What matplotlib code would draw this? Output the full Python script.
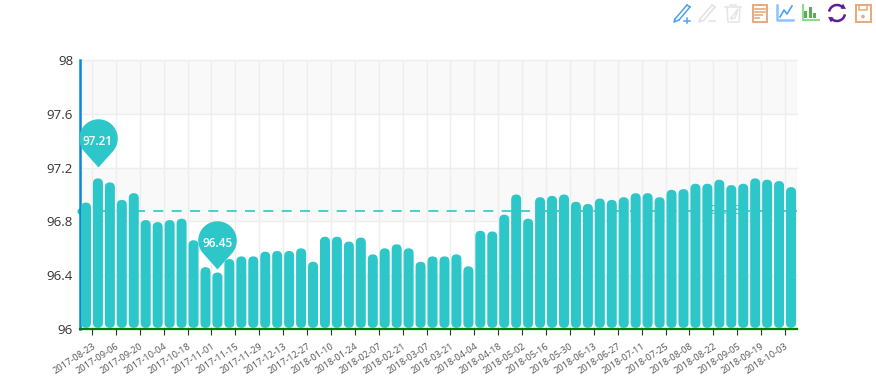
import numpy as np
import pandas as pd
import matplotlib
matplotlib.use("Agg")
import matplotlib.pyplot as plt
from matplotlib.patches import FancyBboxPatch, Rectangle, Circle, Polygon, Arc
from matplotlib.path import Path

plt.rcParams["font.family"] = ["Open Sans", "DejaVu Sans"]

# weekly values
values = [96.94, 97.12, 97.09, 96.96, 97.01, 96.81, 96.795, 96.81, 96.82, 96.66,
          96.46, 96.42, 96.52, 96.54, 96.54, 96.575, 96.58, 96.58, 96.60, 96.50,
          96.686, 96.686, 96.65, 96.68, 96.555, 96.60, 96.63, 96.60, 96.50, 96.54,
          96.54, 96.555, 96.466, 96.73, 96.725, 96.85, 97.00, 96.82, 96.98, 96.99,
          97.00, 96.946, 96.93, 96.97, 96.96, 96.98, 97.01, 97.01, 96.98, 97.035,
          97.04, 97.08, 97.08, 97.11, 97.07, 97.08, 97.12, 97.11, 97.10, 97.055]
dates = pd.date_range("2017-08-23", periods=len(values), freq="7D").strftime("%Y-%m-%d").tolist()
y_ticks = [96, 96.4, 96.8, 97.2, 97.6, 98]
y_labels = ["96", "96.4", "96.8", "97.2", "97.6", "98"]
max_point = (1, 97.21)
min_point = (11, 96.45)
mean_value = 96.88

TEAL = "#2ec7c9"
W, H = 876, 388

fig = plt.figure(figsize=(W / 100, H / 100), dpi=100)
ax = fig.add_axes([80 / W, 1 - 329 / H, 717 / W, 269 / H])
ax.set_xlim(-0.5, len(values) - 0.5)
ax.set_ylim(96, 98)

# alternating background bands and grid
for i in range(len(y_ticks) - 1):
    if i % 2 == 0:
        ax.axhspan(y_ticks[i], y_ticks[i + 1], color="#f9f9f9", lw=0, zorder=0)
tick_pos = np.arange(0.5, len(values), 2)
for y in y_ticks:
    ax.axhline(y, color="#eeeeee", lw=1, zorder=1, clip_on=False)
for x in tick_pos:
    ax.axvline(x, color="#eeeeee", lw=1, zorder=1)
ax.axvline(len(values) - 0.5, color="#eeeeee", lw=1, zorder=1)

# mean line goes under the bars, same colour anyway
ax.plot([-0.5, len(values) - 0.5], [mean_value, mean_value], color=TEAL, lw=1.2,
        dashes=(6, 5), zorder=2)
ax.plot([-0.5], [mean_value], "o", color=TEAL, ms=4.5, mew=0, clip_on=False, zorder=2)
ax.text(len(values) - 6.5, mean_value, f"{mean_value:.2f}", color=TEAL, fontsize=9,
        ha="center", va="center", zorder=2)

# rounded bars
bar_w = 10 / 11.95
aspect = (2 / 269) / (1 / 11.95)
base = 96.008
for i, v in enumerate(values):
    ax.add_patch(FancyBboxPatch((i - bar_w / 2, base), bar_w, v - base,
                                boxstyle=f"round,pad=0,rounding_size={bar_w / 2}",
                                mutation_aspect=aspect, fc=TEAL, ec="none", zorder=3))

for side in ["top", "right"]:
    ax.spines[side].set_visible(False)
ax.spines["left"].set_color("#0a87d9")
ax.spines["left"].set_linewidth(1.8)
ax.spines["bottom"].set_color("#008000")
ax.spines["bottom"].set_linewidth(1.6)
ax.set_axisbelow(False)

ax.set_yticks(y_ticks)
ax.set_yticklabels(y_labels, fontsize=9.5, color="#333333")
ax.tick_params(axis="y", length=0, pad=5)
ax.set_xticks(tick_pos)
ax.set_xticklabels(dates[::2], fontsize=6.7, color="#555555", rotation=33,
                   ha="right", rotation_mode="anchor")
ax.tick_params(axis="x", length=4, width=0.8, color="#333333", pad=5)


def pin_marker():
    # tip just under the origin, circle above it
    r, d = 20.0, 30.0
    a = np.degrees(np.arccos(r / d))
    arc = Path.arc(-90 + a, 270 - a)
    tip = [0, -1]
    verts = np.vstack([tip, arc.vertices * r + [0, d - 1], tip])
    codes = [Path.MOVETO] + [Path.LINETO] + list(arc.codes[1:]) + [Path.CLOSEPOLY]
    return Path(verts, codes)


for x, y in [max_point, min_point]:
    ax.plot([x], [y], marker=pin_marker(), ms=68.0, color=TEAL, mew=0, clip_on=False,
            zorder=5, ls="none")
    ax.annotate(f"{y:.2f}", (x, y), xytext=(0, 24.5), textcoords="offset pixels",
                color="white", fontsize=8.5, fontweight="semibold", ha="center", va="center", zorder=6)

# toolbox icons along the top, drawn in pixel coordinates
ov = fig.add_axes([0, 0, 1, 1], zorder=10)
ov.set_xlim(0, W)
ov.set_ylim(H, 0)
ov.axis("off")


def pen(cx, col):
    ov.plot([cx - 7, cx + 5], [19, 5], color=col, lw=1.1)
    ov.plot([cx - 3, cx + 8], [20, 7], color=col, lw=1.1)
    ov.plot([cx + 5, cx + 8], [5, 7], color=col, lw=1.1)
    ov.plot([cx - 7, cx - 8, cx - 3], [19, 22, 20], color=col, lw=1.1)
    ov.plot([cx + 2, cx + 8], [20.5, 20.5], color=col, lw=1.1)


pen(682, "#4da3f0")
ov.plot([687, 687], [18, 23], color="#4da3f0", lw=1.1)
pen(707, "#e2e2e2")

# trash
ov.plot([725, 741], [7, 7], color="#e6e6e6", lw=1.2)
ov.plot([730, 736], [5, 5], color="#e6e6e6", lw=1.2)
ov.plot([727, 728, 739, 740], [7, 22, 22, 7], color="#e6e6e6", lw=1.1)
ov.plot([731, 738, 735, 731, 731], [18, 9, 18, 19, 18], color="#e6e6e6", lw=1.1)

# data view
ov.add_patch(Rectangle((752.5, 5), 14, 16.5, fc="none", ec="#e8a97c", lw=1.4))
for y0, w in [(9, 10), (12, 10), (15, 7), (18, 4)]:
    ov.plot([754.5, 754.5 + w], [y0, y0], color="#e8a97c", lw=1.2)

# line icon
ov.plot([777, 777, 793], [5, 20, 20], color="#8cc4fb", lw=1.8)
ov.plot([780, 784, 787, 792], [17, 10, 14, 6], color="#4aa3f5", lw=1.2)

# bar icon
ov.plot([803, 803, 819], [5, 20, 20], color="#8fdc8f", lw=1.5)
for x0, top in [(805.5, 11), (810, 7), (814.5, 13)]:
    ov.add_patch(Rectangle((x0 - 1.5, top), 3, 18 - top, fc="#55b055", ec="none"))

# refresh
ov.add_patch(Arc((837, 13), 16, 16, theta1=190, theta2=325, color="#5a1f98", lw=1.8))
ov.add_patch(Arc((837, 13), 16, 16, theta1=10, theta2=145, color="#5a1f98", lw=1.8))
ov.add_patch(Polygon([[843, 3.5], [846, 9], [840.5, 8.5]], fc="#5a1f98", ec="none"))
ov.add_patch(Polygon([[831, 22.5], [828, 17], [833.5, 17.5]], fc="#5a1f98", ec="none"))

# save
ov.add_patch(Rectangle((855.5, 5), 15, 16.5, fc="none", ec="#e8a97c", lw=1.4))
ov.plot([859, 859, 867, 867], [5, 10, 10, 5], color="#e8a97c", lw=1.1)
ov.add_patch(Circle((863, 16.5), 1.8, fc="#e8a97c", ec="none"))

plt.savefig("out.png", dpi=100)
plt.close()
